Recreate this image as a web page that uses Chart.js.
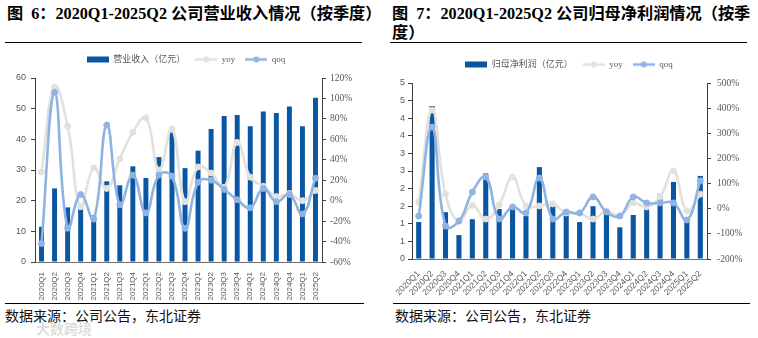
<!DOCTYPE html>
<html>
<head>
<meta charset="utf-8">
<script src="https://cdn.jsdelivr.net/npm/chart.js@4.4.1/dist/chart.umd.min.js"></script>
<style>
  body { margin: 0; width: 758px; height: 338px; background: #fff; position: relative; overflow: hidden; }
  .title { position: absolute; top: 5px; font: bold 16.2px "Liberation Serif", "Noto Sans CJK SC"; line-height: 19px; color: #000; white-space: nowrap; }
  .gap { display: inline-block; width: 8px; }
  .rule { position: absolute; height: 1px; background: #000; }
  .src { position: absolute; top: 305px; font: 14px "Noto Sans CJK SC"; color: #111; white-space: nowrap; }
  .wm { position: absolute; left: 36px; top: 318px; font: bold 14px "Noto Sans CJK SC"; color: rgba(180,180,180,0.45); }
  canvas { position: absolute; }
</style>
</head>
<body>
<div class="title" style="left:7px">图<span class="gap"></span>6：2020Q1-2025Q2 公司营业收入情况（按季度）</div>
<div class="title" style="left:392px">图<span class="gap"></span>7：2020Q1-2025Q2 公司归母净利润情况（按季<br>度）</div>
<div class="rule" style="left:5px;top:42px;width:357px"></div>
<div class="rule" style="left:390px;top:42px;width:357px"></div>

<canvas id="revChart" style="left:0;top:49px" width="372" height="253"></canvas>
<canvas id="profitChart" style="left:380px;top:54px" width="378" height="246"></canvas>

<div class="rule" style="left:5px;top:303px;width:359px"></div>
<div class="rule" style="left:393px;top:303px;width:357px"></div>
<div class="src" style="left:5px">数据来源：公司公告，东北证券</div>
<div class="src" style="left:395px">数据来源：公司公告，东北证券</div>
<div class="wm">大数跨境</div>

<script>
const quarters = ['2020Q1','2020Q2','2020Q3','2020Q4','2021Q1','2021Q2','2021Q3','2021Q4',
                  '2022Q1','2022Q2','2022Q3','2022Q4','2023Q1','2023Q2','2023Q3','2023Q4',
                  '2024Q1','2024Q2','2024Q3','2024Q4','2025Q1','2025Q2'];

// 营业收入（亿元）and growth, %
const revenue    = [11.5, 24.0, 17.8, 18.7, 15.2, 26.3, 25.0, 31.2, 27.4, 34.2, 42.3, 30.6, 36.3, 43.4, 47.6, 47.9, 44.3, 49.1, 48.6, 50.7, 44.3, 53.6];
const revenueYoy = [28, 111, 73, -6, 32, 12, 41, 67, 81, 30, 70, -1, 33, 27, 13, 57, 23, 14, 4, 7, 0, 10];
const revenueQoq = [-42, 106, -27, 6, -18, 74, -4, 25, -12, 25, 24, -27, 18, 20, 11, 1, -7, 12, -1, 6, -13, 22];

// 归母净利润（亿元）and growth, %
const profit    = [1.05, 4.35, 1.33, 0.68, 1.13, 2.43, 1.42, 1.50, 1.22, 2.61, 1.58, 1.34, 1.05, 1.50, 1.34, 0.90, 1.25, 1.44, 1.85, 2.19, 1.09, 2.36];
const profitYoy = [27, 393, 58, -49, 13, -41, 15, 126, 11, 11, 19, -17, -17, -41, -9, -29, 23, 7, 47, 150, -9, 58];
const profitQoq = [-29, 325, -69, -49, 66, 126, -41, 7, -17, 122, -41, -13, -17, 47, -13, -29, 47, 23, 23, 23, -45, 111];

const BAR  = '#0b56a3';
const YOY  = '#e3e1dd';
const QOQ  = '#8fb3e2';
const AXIS = '#404040';
const TXT  = '#595959';

Chart.defaults.font.family = 'Liberation Sans';
Chart.defaults.animation = false;

function swatch(kind, color) {
  const c = document.createElement('canvas');
  c.width = 22; c.height = 8;
  const x = c.getContext('2d');
  if (kind === 'bar') {
    x.fillStyle = color; x.fillRect(0, 1, 22, 6);
  } else {
    x.strokeStyle = color; x.lineWidth = 2.5;
    x.beginPath(); x.moveTo(0, 4); x.lineTo(22, 4); x.stroke();
    x.fillStyle = color;
    x.beginPath(); x.arc(11, 4, 3, 0, Math.PI * 2); x.fill();
  }
  return c;
}

function buildChart(id, o) {
  const swatches = [swatch('bar', BAR), swatch('line', YOY), swatch('line', QOQ)];
  const lineDs = (label, data, color, order) => ({
    type: 'line', label, data, yAxisID: 'y1', order,
    borderColor: color, backgroundColor: color, borderWidth: 2.6,
    pointRadius: 3, pointBackgroundColor: color, pointBorderColor: color, pointBorderWidth: 1,
    tension: 0.45
  });

  return new Chart(document.getElementById(id).getContext('2d'), {
    type: 'bar',
    data: {
      labels: quarters,
      datasets: [
        { label: o.barLabel, data: o.bars, yAxisID: 'y', order: 3, backgroundColor: BAR,
          barPercentage: 0.38, categoryPercentage: 1 },
        lineDs('yoy', o.yoy, YOY, 2),
        lineDs('qoq', o.qoq, QOQ, 1)
      ]
    },
    options: {
      responsive: false,
      plugins: {
        tooltip: { enabled: false },
        legend: {
          position: 'top',
          labels: {
            usePointStyle: true, pointStyleWidth: 22, padding: 10, color: TXT,
            font: { family: '"Liberation Serif", "Noto Sans CJK SC"', size: 9 },
            generateLabels: chart => chart.data.datasets.map((d, i) => ({
              text: d.label, pointStyle: swatches[i], fillStyle: d.backgroundColor,
              strokeStyle: d.backgroundColor, lineWidth: 0, hidden: false, datasetIndex: i, fontColor: TXT
            }))
          }
        }
      },
      scales: {
        x: {
          afterFit: s => { s.height = o.xHeight; },
          grid: { display: false },
          border: { display: true, color: '#6e6e6e' },
          ticks: { autoSkip: false, minRotation: o.rotation, maxRotation: o.rotation, padding: 2,
                   color: TXT, font: { size: o.xFont } }
        },
        y: {
          position: 'left', min: 0, max: o.yMax,
          afterFit: s => { s.width = o.yWidth; },
          grid: { drawOnChartArea: false, drawTicks: true, tickLength: 4, color: AXIS },
          border: { display: true, color: AXIS },
          ticks: { stepSize: o.yStep, padding: o.yPad, color: TXT, font: { size: 9 }, callback: o.yFmt }
        },
        y1: {
          position: 'right', min: o.y1Min, max: o.y1Max,
          afterFit: s => { s.width = o.y1Width; },
          grid: { drawOnChartArea: false, drawTicks: true, tickLength: 4, color: AXIS },
          border: { display: true, color: AXIS },
          ticks: { stepSize: o.y1Step, padding: o.y1Pad, color: TXT,
                   font: { family: 'Liberation Serif', size: 9.5 }, callback: v => v + '%' }
        }
      }
    },
    plugins: [{
      id: 'legendNudge',
      afterLayout(chart) {
        const lg = chart.legend;
        if (lg) { lg.top -= o.legendDy; lg.bottom -= o.legendDy; }
      }
    }]
  });
}

buildChart('revChart', {
  barLabel: '营业收入（亿元）', bars: revenue, yoy: revenueYoy, qoq: revenueQoq,
  yMax: 60, yStep: 10, yFmt: v => v, y1Min: -60, y1Max: 120, y1Step: 20,
  rotation: 90, xFont: 8, xHeight: 40, yWidth: 35, y1Width: 50, yPad: 5, y1Pad: 4, legendDy: 4
});

buildChart('profitChart', {
  barLabel: '归母净利润（亿元）', bars: profit, yoy: profitYoy, qoq: profitQoq,
  yMax: 5, yStep: 0.5, yFmt: v => Math.round(v), y1Min: -200, y1Max: 500, y1Step: 100,
  rotation: 45, xFont: 8.5, xHeight: 41, yWidth: 32, y1Width: 51, yPad: 3, y1Pad: 6, legendDy: 4
});
</script>
</body>
</html>
